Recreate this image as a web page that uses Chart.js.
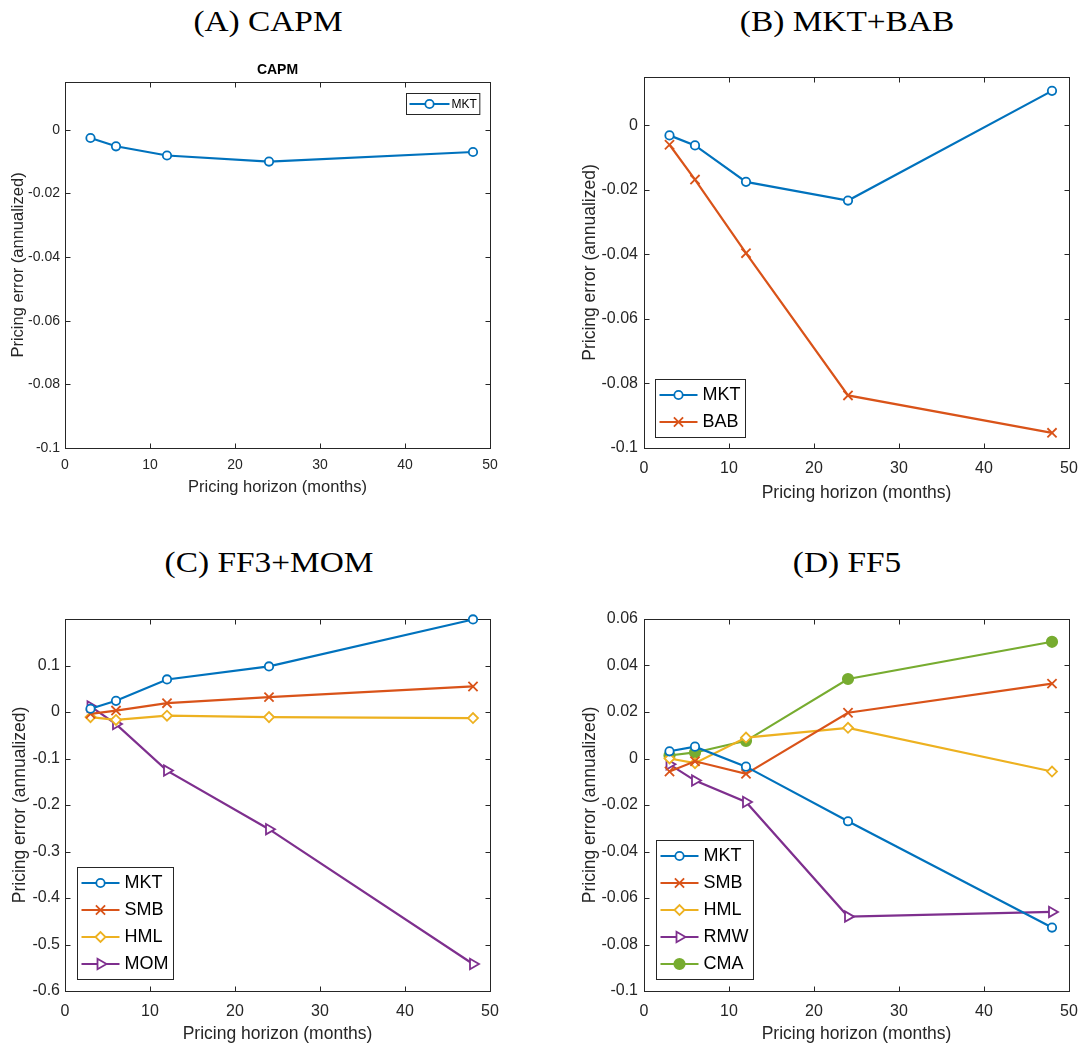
<!DOCTYPE html>
<html>
<head>
<meta charset="utf-8">
<script src="https://cdn.jsdelivr.net/npm/chart.js@4/dist/chart.umd.min.js"></script>
<style>
  body { margin: 0; background: #fff; width: 1081px; height: 1051px; position: relative; overflow: hidden; }
  canvas { position: absolute; }
  .panel-title {
    position: absolute; width: 300px; text-align: center;
    font-family: "Liberation Serif", "Times New Roman", serif;
    font-size: 29px; line-height: 34px; color: #000;
    transform: scaleX(1.15); transform-origin: 50% 50%;
  }
</style>
</head>
<body>

<div class="panel-title" style="left:118px;top:4px">(A) CAPM</div>
<div class="panel-title" style="left:697px;top:4px">(B) MKT+BAB</div>
<div class="panel-title" style="left:119px;top:545px">(C) FF3+MOM</div>
<div class="panel-title" style="left:697px;top:545px">(D) FF5</div>

<canvas id="capmChart" width="520" height="435" style="left:0px;top:62px"></canvas>
<canvas id="babChart" width="521" height="437" style="left:560px;top:67px"></canvas>
<canvas id="ff3Chart" width="520" height="436" style="left:0px;top:609px"></canvas>
<canvas id="ff5Chart" width="521" height="436" style="left:560px;top:609px"></canvas>

<script>
// =======================================================
// Données
// =======================================================

const horizons = [3, 6, 12, 24, 48];

const capmMkt = [-0.0026, -0.0052, -0.0081, -0.0100, -0.0070];

const babMkt = [-0.0031, -0.0062, -0.0175, -0.0233, 0.0107];
const babBab = [-0.0060, -0.0168, -0.0396, -0.0837, -0.0953];

const ff3Mkt = [0.007, 0.024, 0.070, 0.098, 0.199];
const ff3Smb = [-0.004, 0.003, 0.019, 0.032, 0.055];
const ff3Hml = [-0.011, -0.017, -0.008, -0.011, -0.013];
const ff3Mom = [0.012, -0.026, -0.126, -0.252, -0.542];

const ff5Mkt = [0.0031, 0.0051, -0.0035, -0.0270, -0.0727];
const ff5Smb = [-0.0056, -0.0012, -0.0066, 0.0197, 0.0322];
const ff5Hml = [0.0000, -0.0020, 0.0090, 0.0132, -0.0056];
const ff5Rmw = [-0.0025, -0.0095, -0.0187, -0.0680, -0.0660];
const ff5Cma = [0.0013, 0.0026, 0.0076, 0.0342, 0.0502];

const horizonTicks = [0, 10, 20, 30, 40, 50];
const smallTicks = [-0.1, -0.08, -0.06, -0.04, -0.02, 0];
const ff3Ticks = [-0.6, -0.5, -0.4, -0.3, -0.2, -0.1, 0, 0.1];
const ff5Ticks = [-0.1, -0.08, -0.06, -0.04, -0.02, 0, 0.02, 0.04, 0.06];

const xLabel = "Pricing horizon (months)";
const yLabel = "Pricing error (annualized)";


// =======================================================
// Styles
// =======================================================

const SANS = '"Liberation Sans", Arial, Helvetica, sans-serif';
const AXIS = "#262626";

const COLORS = {
    blue: "#0072BD",
    orange: "#D95319",
    yellow: "#EDB120",
    purple: "#7E2F8E",
    green: "#77AC30"
};

const MARKERS = {
    circle:   { pointStyle: "circle",   pointRadius: 4.2, hollow: true },
    cross:    { pointStyle: "crossRot", pointRadius: 6.5, hollow: true },
    diamond:  { pointStyle: "rectRot",  pointRadius: 5,   hollow: true },
    triangle: { pointStyle: "triangle", pointRadius: 6,   hollow: true, rotation: 90 },
    dot:      { pointStyle: "circle",   pointRadius: 5.2, hollow: false }
};

Chart.defaults.font.family = SANS;


// =======================================================
// Plugins : cadre avec graduations internes + légende encadrée
// =======================================================

const axesBox = {
    id: "axesBox",
    beforeDatasetsDraw(chart) {
        const { ctx, chartArea: a, scales: { x, y } } = chart;
        const L = Math.round(a.left) + 0.5, R = Math.round(a.right) + 0.5;
        const T = Math.round(a.top) + 0.5, B = Math.round(a.bottom) + 0.5;
        ctx.save();
        ctx.strokeStyle = AXIS;
        ctx.lineWidth = 1;
        ctx.beginPath();
        x.ticks.forEach(t => {
            const px = Math.round(x.getPixelForValue(t.value)) + 0.5;
            ctx.moveTo(px, B); ctx.lineTo(px, B - 5);
            ctx.moveTo(px, T); ctx.lineTo(px, T + 5);
        });
        y.ticks.forEach(t => {
            const py = Math.round(y.getPixelForValue(t.value)) + 0.5;
            ctx.moveTo(L, py); ctx.lineTo(L + 5, py);
            ctx.moveTo(R, py); ctx.lineTo(R - 5, py);
        });
        ctx.stroke();
        ctx.strokeRect(L, T, R - L, B - T);
        ctx.restore();
    }
};

const boxLegend = {
    id: "boxLegend",
    afterDraw(chart, args, o) {
        const { ctx, chartArea: a } = chart;
        const sets = chart.data.datasets;
        ctx.save();
        ctx.font = o.size + "px " + SANS;
        const textW = Math.max(...sets.map(d => ctx.measureText(d.label).width));
        const w = o.padL + o.line + o.gap + textW + o.padR;
        const h = o.padT + sets.length * o.row + o.padB;
        let x0, y0;
        if (o.corner === "ne") {
            x0 = a.right - o.inset - w;
            y0 = a.top + o.inset;
        } else {
            x0 = a.left + o.inset;
            y0 = a.bottom - o.inset - h;
        }
        x0 = Math.round(x0) + 0.5;
        y0 = Math.round(y0) + 0.5;

        ctx.fillStyle = "#fff";
        ctx.fillRect(x0, y0, w, h);
        ctx.strokeStyle = AXIS;
        ctx.lineWidth = 1;
        ctx.strokeRect(x0, y0, w, h);

        sets.forEach((d, i) => {
            const cy = y0 + o.padT + o.row * (i + 0.5);
            const lx = x0 + o.padL;
            ctx.strokeStyle = d.borderColor;
            ctx.lineWidth = d.borderWidth;
            ctx.beginPath();
            ctx.moveTo(lx, cy);
            ctx.lineTo(lx + o.line, cy);
            ctx.stroke();

            ctx.fillStyle = d.pointBackgroundColor;
            ctx.lineWidth = d.pointBorderWidth;
            Chart.helpers.drawPoint(ctx, {
                pointStyle: d.pointStyle,
                rotation: d.pointRotation || 0,
                radius: d.pointRadius,
                borderWidth: d.pointBorderWidth
            }, lx + o.line / 2, cy);

            ctx.fillStyle = "#000";
            ctx.textBaseline = "middle";
            ctx.textAlign = "left";
            ctx.fillText(d.label, lx + o.line + o.gap, cy + 0.5);
        });
        ctx.restore();
    }
};


// =======================================================
// Construction d'un panneau
// =======================================================

function series(label, values, color, marker) {
    const m = MARKERS[marker];
    return {
        label: label,
        data: horizons.map((h, i) => ({ x: h, y: values[i] })),
        borderColor: color,
        backgroundColor: color,
        borderWidth: 2.2,
        pointStyle: m.pointStyle,
        pointRadius: m.pointRadius,
        pointRotation: m.rotation || 0,
        pointBorderWidth: 1.8,
        pointBorderColor: color,
        pointBackgroundColor: m.hollow ? "#fff" : color,
        tension: 0,
        clip: false
    };
}

function fmt(v) {
    return String(Number(v.toFixed(4)));
}

function drawPanel(id, p) {

    new Chart(document.getElementById(id), {

        type: "line",

        data: { datasets: p.datasets },

        options: {
            responsive: false,
            animation: false,
            devicePixelRatio: 1,
            layout: { padding: { top: p.padTop, right: p.padRight, left: 0, bottom: 0 } },
            plugins: {
                legend: { display: false },
                tooltip: { enabled: false },
                title: p.title ? {
                    display: true,
                    text: p.title,
                    fullSize: false,
                    color: "#000",
                    font: { size: 14, weight: "bold", lineHeight: 1.2 },
                    padding: { top: 0, bottom: 3.2 }
                } : { display: false },
                boxLegend: p.legend
            },
            scales: {
                x: {
                    type: "linear",
                    min: 0,
                    max: 50,
                    afterBuildTicks: s => { s.ticks = horizonTicks.map(v => ({ value: v })); },
                    afterFit: s => {
                        s.height = p.xHeight;
                        s.paddingLeft = 0; s.paddingRight = 0;
                    },
                    grid: { display: false, drawTicks: false },
                    border: { display: false },
                    ticks: {
                        color: AXIS,
                        font: { size: p.tickSize },
                        padding: p.xTickPad,
                        maxRotation: 0,
                        autoSkip: false,
                        callback: fmt
                    },
                    title: {
                        display: true,
                        text: xLabel,
                        color: AXIS,
                        font: { size: p.titleSize, lineHeight: 1.2 },
                        padding: { top: 0, bottom: p.xTitlePad }
                    }
                },
                y: {
                    type: "linear",
                    min: p.yMin,
                    max: p.yMax,
                    afterBuildTicks: s => { s.ticks = p.yTicks.map(v => ({ value: v })); },
                    afterFit: s => {
                        s.width = p.yWidth;
                        s.paddingTop = 0; s.paddingBottom = 0;
                    },
                    grid: { display: false, drawTicks: false },
                    border: { display: false },
                    ticks: {
                        color: AXIS,
                        font: { size: p.tickSize },
                        padding: p.yTickPad,
                        autoSkip: false,
                        callback: fmt
                    },
                    title: {
                        display: true,
                        text: yLabel,
                        color: AXIS,
                        font: { size: p.titleSize, lineHeight: 1.2 },
                        padding: { top: p.yTitlePad, bottom: 0 }
                    }
                }
            }
        },

        plugins: [axesBox, boxLegend]

    });

}


// =======================================================
// Les quatre panneaux
// =======================================================

const bigLegend = { corner: "sw", inset: 11, size: 18, padL: 4, line: 38, gap: 5, padR: 5, padT: 2, padB: 2, row: 27 };

drawPanel("capmChart", {
    title: "CAPM",
    datasets: [series("MKT", capmMkt, COLORS.blue, "circle")],
    yMin: -0.1, yMax: 0.015, yTicks: smallTicks,
    padTop: 0, padRight: 30, yWidth: 65, xHeight: 49,
    tickSize: 14, titleSize: 16.5, xTickPad: 9, yTickPad: 5, xTitlePad: 0, yTitlePad: 8.6,
    legend: { corner: "ne", inset: 11, size: 12, padL: 3, line: 40, gap: 2, padR: 3, padT: 0, padB: 0, row: 21 }
});

drawPanel("babChart", {
    datasets: [
        series("MKT", babMkt, COLORS.blue, "circle"),
        series("BAB", babBab, COLORS.orange, "cross")
    ],
    yMin: -0.1, yMax: 0.015, yTicks: smallTicks,
    padTop: 10, padRight: 12, yWidth: 84, xHeight: 56,
    tickSize: 16, titleSize: 17.5, xTickPad: 11, yTickPad: 6, xTitlePad: 0.5, yTitlePad: 19.5,
    legend: bigLegend
});

drawPanel("ff3Chart", {
    datasets: [
        series("MKT", ff3Mkt, COLORS.blue, "circle"),
        series("SMB", ff3Smb, COLORS.orange, "cross"),
        series("HML", ff3Hml, COLORS.yellow, "diamond"),
        series("MOM", ff3Mom, COLORS.purple, "triangle")
    ],
    yMin: -0.6, yMax: 0.2, yTicks: ff3Ticks,
    padTop: 10, padRight: 30, yWidth: 65, xHeight: 54,
    tickSize: 16, titleSize: 17.5, xTickPad: 11, yTickPad: 5, xTitlePad: 0.5, yTitlePad: 9.5,
    legend: Object.assign({}, bigLegend, { inset: 12 })
});

drawPanel("ff5Chart", {
    datasets: [
        series("MKT", ff5Mkt, COLORS.blue, "circle"),
        series("SMB", ff5Smb, COLORS.orange, "cross"),
        series("HML", ff5Hml, COLORS.yellow, "diamond"),
        series("RMW", ff5Rmw, COLORS.purple, "triangle"),
        series("CMA", ff5Cma, COLORS.green, "dot")
    ],
    yMin: -0.1, yMax: 0.06, yTicks: ff5Ticks,
    padTop: 10, padRight: 12, yWidth: 84, xHeight: 54,
    tickSize: 16, titleSize: 17.5, xTickPad: 11, yTickPad: 6, xTitlePad: 0.5, yTitlePad: 19.5,
    legend: Object.assign({}, bigLegend, { inset: 12 })
});
</script>
</body>
</html>
